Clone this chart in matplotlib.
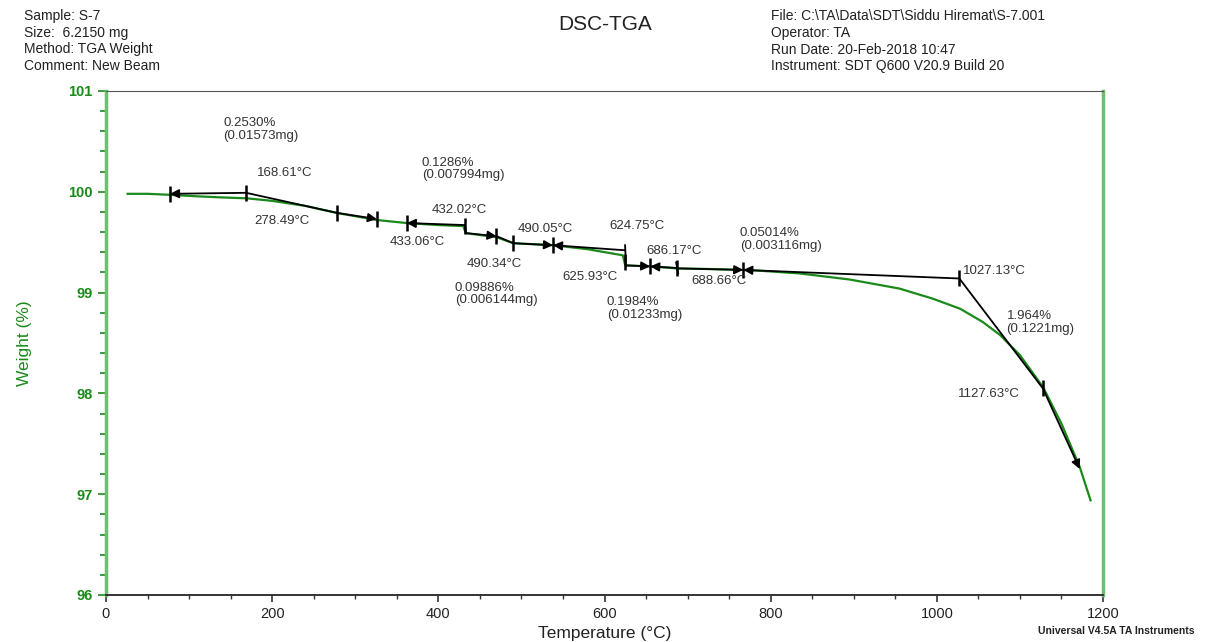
import matplotlib
matplotlib.use("Agg")
import matplotlib.pyplot as plt
from matplotlib.ticker import MultipleLocator

plt.rcParams['font.family'] = ['Liberation Sans', 'DejaVu Sans']

# ---- data: TGA curve (temperature °C, weight %) ----
temp = [26, 50, 77, 110, 137, 170, 200, 240, 278, 326, 362, 400, 430, 433,
        470, 490, 538, 580, 622, 625, 655, 687, 720, 767, 787, 835, 895,
        955, 995, 1028, 1055, 1076, 1100, 1128, 1150, 1172, 1185]
weight = [99.98, 99.98, 99.97, 99.955, 99.945, 99.935, 99.91, 99.86, 99.79,
          99.72, 99.69, 99.67, 99.66, 99.59, 99.55, 99.49, 99.47, 99.43,
          99.37, 99.27, 99.26, 99.24, 99.235, 99.225, 99.217, 99.19, 99.13,
          99.04, 98.94, 98.84, 98.71, 98.58, 98.38, 98.06, 97.70, 97.27, 96.94]

# ---- step-change analysis annotations ----
# arrows: (start_x, start_y, tip_x, tip_y)
ann_arrows = [
    (168.61, 99.99, 77, 99.98),
    (278.49, 99.79, 326, 99.73),
    (432.02, 99.67, 362, 99.69),
    (433.06, 99.59, 470, 99.56),
    (490.34, 99.49, 538, 99.47),
    (624.75, 99.42, 538, 99.47),
    (625.93, 99.27, 655, 99.26),
    (686.17, 99.245, 655, 99.26),
    (688.66, 99.24, 767, 99.225),
    (1027.13, 99.14, 767, 99.225),
    (1127.63, 98.05, 1172, 97.25),
]
# connecting lines: (x0, y0, x1, y1)
ann_lines = [
    (168.61, 99.99, 278.49, 99.79),
    (432.02, 99.67, 433.06, 99.59),
    (470, 99.56, 490.34, 99.49),
    (624.75, 99.47, 625.93, 99.26),
    (686.17, 99.30, 688.66, 99.19),
    (1027.13, 99.14, 1127.63, 98.05),
]
# cursor ticks: (x, y)
ann_ticks = [(77, 99.98), (168.61, 99.99), (278.49, 99.79), (326, 99.73),
             (362, 99.69), (432.02, 99.66), (470, 99.56), (490.34, 99.49),
             (538, 99.47), (625, 99.30), (655, 99.26), (687, 99.245),
             (767, 99.225), (1027.13, 99.14), (1127.63, 98.05)]
# labels: (x, y, text)
ann_labels = [
    (141, 100.74, "0.2530%\n(0.01573mg)"),
    (182, 100.25, "168.61°C"),
    (179, 99.77, "278.49°C"),
    (380, 100.35, "0.1286%\n(0.007994mg)"),
    (392, 99.88, "432.02°C"),
    (342, 99.56, "433.06°C"),
    (434, 99.34, "490.34°C"),
    (496, 99.69, "490.05°C"),
    (420, 99.11, "0.09886%\n(0.006144mg)"),
    (606, 99.72, "624.75°C"),
    (549, 99.21, "625.93°C"),
    (651, 99.47, "686.17°C"),
    (705, 99.17, "688.66°C"),
    (603, 98.97, "0.1984%\n(0.01233mg)"),
    (763, 99.65, "0.05014%\n(0.003116mg)"),
    (1031, 99.27, "1027.13°C"),
    (1084, 98.83, "1.964%\n(0.1221mg)"),
    (1025, 98.05, "1127.63°C"),
]

header_left = "Sample: S-7\nSize:  6.2150 mg\nMethod: TGA Weight\nComment: New Beam"
header_right = ("File: C:\\TA\\Data\\SDT\\Siddu Hiremat\\S-7.001\nOperator: TA\n"
                "Run Date: 20-Feb-2018 10:47\nInstrument: SDT Q600 V20.9 Build 20")

GREEN = "#1a8a1a"
AXGREEN = "#6cbf6c"

fig = plt.figure(figsize=(12.10, 6.42), dpi=100)
ax = fig.add_axes([106/1210, 1-595/642, (1103-106)/1210, (595-91)/642])

ax.plot(temp, weight, color=GREEN, lw=1.6, zorder=2)

for x0, y0, x1, y1 in ann_lines:
    ax.plot([x0, x1], [y0, y1], color="black", lw=1.3, zorder=3)
for x0, y0, x1, y1 in ann_arrows:
    ax.annotate("", xy=(x1, y1), xytext=(x0, y0),
                arrowprops=dict(arrowstyle="-|>", color="black", lw=1.3,
                                mutation_scale=13, shrinkA=0, shrinkB=0),
                zorder=4)
tx = [t[0] for t in ann_ticks]
ty = [t[1] for t in ann_ticks]
ax.plot(tx, ty, linestyle="none", marker="|", markersize=12, mew=1.8,
        color="black", zorder=4)
for x, y, s in ann_labels:
    ax.text(x, y, s, fontsize=9.5, color="#333333", ha="left", va="top",
            linespacing=1.1, zorder=5)

ax.set_xlim(0, 1200)
ax.set_ylim(96, 101)
ax.xaxis.set_major_locator(MultipleLocator(200))
ax.xaxis.set_minor_locator(MultipleLocator(50))
ax.yaxis.set_major_locator(MultipleLocator(1))
ax.yaxis.set_minor_locator(MultipleLocator(0.2))

ax.tick_params(axis="y", which="major", direction="out", length=6, width=1.2,
               color=GREEN, labelcolor=GREEN, labelsize=10.5)
ax.tick_params(axis="y", which="minor", direction="out", length=4, width=1.2,
               color=GREEN)
ax.tick_params(axis="x", which="major", direction="out", length=5, width=1.2,
               color="#333333", labelcolor="#222222", labelsize=10.5)
ax.tick_params(axis="x", which="minor", direction="out", length=3, width=1.0,
               color="#333333")
for lbl in ax.get_yticklabels():
    lbl.set_fontweight("bold")

ax.spines["left"].set_color(AXGREEN)
ax.spines["left"].set_linewidth(2.5)
ax.spines["right"].set_color(AXGREEN)
ax.spines["right"].set_linewidth(2.5)
ax.spines["top"].set_color("#555555")
ax.spines["bottom"].set_color("#333333")
ax.spines["bottom"].set_linewidth(1.4)

ax.set_xlabel("Temperature (°C)", fontsize=12.5, color="#222222", labelpad=4)
ax.set_ylabel("Weight (%)", fontsize=12.5, color=GREEN, labelpad=26)

fig.text(24/1210, 1-9/642, header_left, fontsize=10, color="#222222",
         ha="left", va="top", linespacing=1.25)
fig.text(771/1210, 1-9/642, header_right, fontsize=10, color="#222222",
         ha="left", va="top", linespacing=1.25)
fig.text(605/1210, 1-25/642, "DSC-TGA", fontsize=15, color="#222222",
         ha="center", va="center")
fig.text(1195/1210, 1-631/642, "Universal V4.5A TA Instruments", fontsize=7.5,
         fontweight="bold", color="#222222", ha="right", va="center")

fig.savefig("out.png", dpi=100)
